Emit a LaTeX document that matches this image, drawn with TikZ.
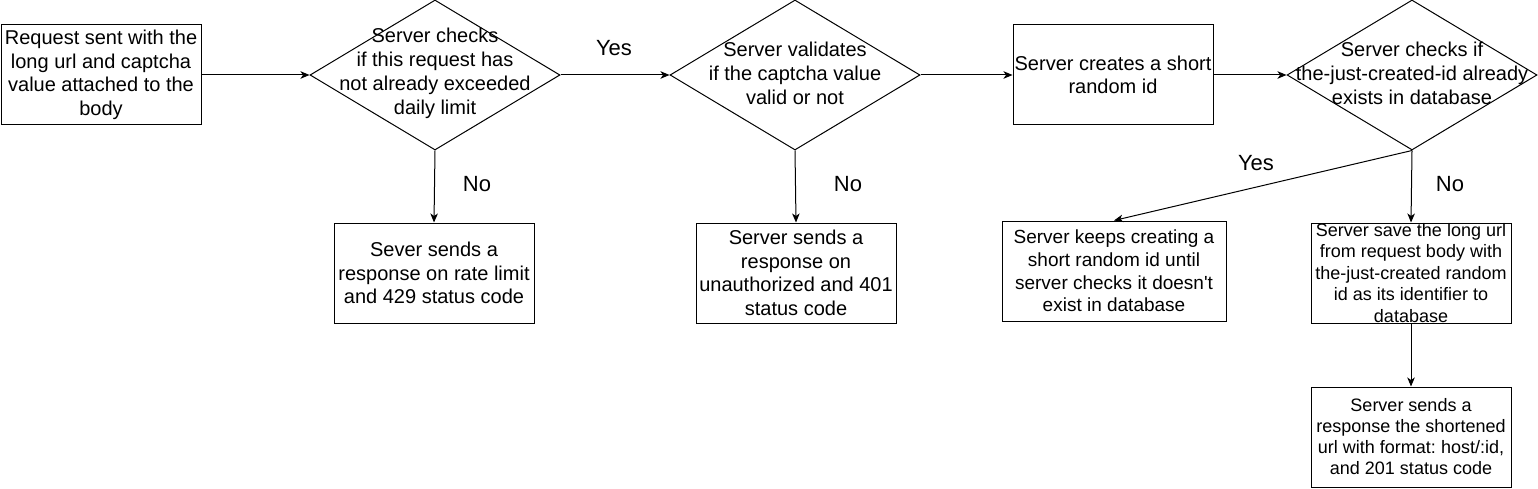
\documentclass[tikz,border=0pt]{standalone}
\usepackage{fontspec}
\setmainfont{Liberation Sans}
\usetikzlibrary{shapes.geometric,arrows.meta}
\frenchspacing
\tikzset{
  box/.style={draw, line width=1pt, rectangle, inner sep=0pt, minimum width=200pt, minimum height=100pt, align=center, font=\fontsize{20}{23.5}\selectfont},
  dia/.style={draw, line width=1pt, diamond, inner sep=0pt, minimum width=250pt, minimum height=150pt},
  diatext/.style={inner sep=0pt, align=center, font=\fontsize{20}{24}\selectfont},
  lbl/.style={inner sep=0pt, font=\fontsize{22}{26}\selectfont},
  conn/.style={line width=1pt, -{Stealth[length=9pt,width=7.5pt,inset=2.5pt]}}
}
\begin{document}
\begin{tikzpicture}[x=1pt,y=-1pt]
\useasboundingbox (0,0) rectangle (1538,489);
% top row
\node[box] (A) at (101,75) {Request sent with the\\long url and captcha\\value attached to the\\body};
\node[dia] (B) at (435,75) {};
\node[diatext] (Bt) at (435,73) {Server checks\\if this request has\\not already exceeded\\daily limit};
\node[dia] (C) at (795,75) {};
\node[diatext] (Ct) at (795,73) {Server validates\\if the captcha value\\valid or not};
\node[box] (D) at (1113,75) {Server creates a short\\random id};
\node[dia] (E) at (1412,75) {};
\node[diatext] (Et) at (1412,73) {Server checks if\\the-just-created-id already\\exists in database};
% bottom row
\node[box] (I) at (434,273) {Sever sends a\\response on rate limit\\and 429 status code};
\node[box] (J) at (796,273) {Server sends a\\response on\\unauthorized and 401\\status code};
\node[box, minimum width=224pt, font=\fontsize{19}{22.7}\selectfont] (F) at (1114,271) {Server keeps creating a\\short random id until\\server checks it doesn\textquotesingle t\\exist in database};
\node[box, font=\fontsize{18}{21.5}\selectfont] (G) at (1411,273) {Server save the long url\\from request body with\\the-just-created random\\id as its identifier to\\database};
\node[box, font=\fontsize{18}{21}\selectfont] (H) at (1411,437) {Server sends a\\response the shortened\\url with format: host/:id,\\and 201 status code};
% connectors
\draw[conn] (A.east) -- (B.west);
\draw[conn] (B.east) -- (C.west);
\draw[conn] (C.east) -- (D.west);
\draw[conn] (D.east) -- (E.west);
\draw[conn] (B.south) -- (I.north);
\draw[conn] (C.south) -- (J.north);
\draw[conn] (E.south) -- (F.north);
\draw[conn] (E.south) -- (G.north);
\draw[conn] (G.south) -- (H.north);
% labels
\node[lbl] (l1) at (614,48) {Yes};
\node[lbl] (l2) at (477,184) {No};
\node[lbl] (l3) at (848,184) {No};
\node[lbl] (l4) at (1256,163) {Yes};
\node[lbl] (l5) at (1450,184) {No};
\end{tikzpicture}
\end{document}
